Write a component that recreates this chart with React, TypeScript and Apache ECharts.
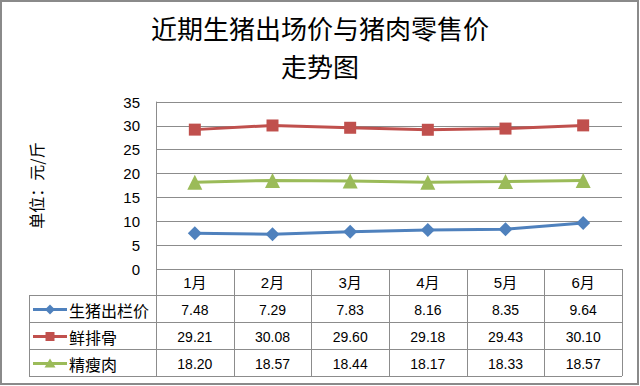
import React, { useEffect, useRef } from "react";
import * as echarts from "echarts";

const months = ["1月", "2月", "3月", "4月", "5月", "6月"];
const seriesNames = ["生猪出栏价", "鲜排骨", "精瘦肉"];
const hogPrice = [7.48, 7.29, 7.83, 8.16, 8.35, 9.64];
const ribPrice = [29.21, 30.08, 29.6, 29.18, 29.43, 30.1];
const leanPrice = [18.2, 18.57, 18.44, 18.17, 18.33, 18.57];
const yTicks = { min: 0, max: 35, interval: 5 };
const titleText = "近期生猪出场价与猪肉零售价\n走势图";
const yAxisName = "单位：元/斤";

const colors = ["#4F81BD", "#C0504D", "#9BBB59"];
const symbols = ["diamond", "rect", "triangle"];
const symbolSizes = [14, 12, 15];

const W = 640;
const H = 386;
const gridLeft = 156;
const gridRight = 622;
const gridTop = 102;
const gridBottom = 269;
const rowLines = [295, 322, 349, 376];
const tableLeft = 29;
const lineColor = "#8c8c8c";

export default function App() {
  const ref = useRef<HTMLDivElement>(null);
  useEffect(() => {
    document.body.style.margin = "0";
    if (!ref.current) return;
    const chart = echarts.init(ref.current, null, { renderer: "svg" });
    const dataSets = [hogPrice, ribPrice, leanPrice];
    const colW = (gridRight - gridLeft) / months.length;
    const graphics: any[] = [];
    // outer border
    graphics.push({
      type: "rect",
      shape: { x: 1, y: 1, width: W - 3, height: H - 3 },
      style: { fill: "none", stroke: "#8a8a8a", lineWidth: 2 },
      silent: true,
    });
    // table horizontal lines
    graphics.push({
      type: "line",
      shape: { x1: gridLeft, y1: gridBottom + 0.5, x2: gridRight, y2: gridBottom + 0.5 },
      style: { stroke: lineColor, lineWidth: 1 },
    });
    rowLines.forEach((y) => {
      graphics.push({
        type: "line",
        shape: { x1: tableLeft, y1: y + 0.5, x2: gridRight, y2: y + 0.5 },
        style: { stroke: lineColor, lineWidth: 1 },
      });
    });
    // vertical lines
    graphics.push({
      type: "line",
      shape: { x1: tableLeft + 0.5, y1: rowLines[0], x2: tableLeft + 0.5, y2: rowLines[3] },
      style: { stroke: lineColor, lineWidth: 1 },
    });
    for (let k = 0; k <= months.length; k++) {
      const x = Math.round(gridLeft + colW * k) + 0.5;
      graphics.push({
        type: "line",
        shape: { x1: x, y1: gridBottom, x2: x, y2: rowLines[3] },
        style: { stroke: lineColor, lineWidth: 1 },
      });
    }
    // table rows
    dataSets.forEach((vals, r) => {
      const yc = (rowLines[r] + rowLines[r + 1]) / 2 + 1;
      const c = colors[r];
      graphics.push({
        type: "line",
        shape: { x1: 33, y1: yc, x2: 67, y2: yc },
        style: { stroke: c, lineWidth: 3 },
      });
      const mx = 50;
      if (symbols[r] === "diamond") {
        graphics.push({
          type: "polygon",
          shape: { points: [[mx, yc - 5], [mx + 5, yc], [mx, yc + 5], [mx - 5, yc]] },
          style: { fill: c },
        });
      } else if (symbols[r] === "rect") {
        graphics.push({
          type: "rect",
          shape: { x: mx - 4.5, y: yc - 4.5, width: 9, height: 9 },
          style: { fill: c },
        });
      } else {
        graphics.push({
          type: "polygon",
          shape: { points: [[mx, yc - 5], [mx + 5.5, yc + 4], [mx - 5.5, yc + 4]] },
          style: { fill: c },
        });
      }
      graphics.push({
        type: "text",
        x: 69,
        y: yc,
        style: {
          text: seriesNames[r],
          fontSize: 16,
          fontFamily: "Noto Sans CJK SC",
          fill: "#000",
          textVerticalAlign: "middle",
          verticalAlign: "middle",
        },
      });
      vals.forEach((v, i) => {
        graphics.push({
          type: "text",
          x: gridLeft + colW * (i + 0.5),
          y: yc,
          style: {
            text: v.toFixed(2),
            fontSize: 14,
            fontFamily: "Liberation Sans",
            fill: "#000",
            align: "center",
            textAlign: "center",
            verticalAlign: "middle",
            textVerticalAlign: "middle",
          },
        });
      });
    });

    chart.setOption({
      animation: false,
      backgroundColor: "#fff",
      title: {
        text: titleText,
        left: "center",
        top: 3,
        textStyle: {
          fontSize: 26,
          fontWeight: "normal",
          fontFamily: "Noto Sans CJK SC",
          color: "#000",
          lineHeight: 38,
        },
      },
      grid: {
        left: gridLeft,
        right: W - gridRight,
        top: gridTop,
        bottom: H - gridBottom,
        containLabel: false,
      },
      xAxis: {
        type: "category",
        data: months,
        boundaryGap: true,
        axisLine: { show: false },
        axisTick: { show: false },
        splitLine: { show: false },
        axisLabel: {
          margin: 6,
          fontSize: 15,
          color: "#000",
          fontFamily: "Liberation Sans, Noto Sans CJK SC",
        },
      },
      yAxis: {
        type: "value",
        min: yTicks.min,
        max: yTicks.max,
        interval: yTicks.interval,
        name: yAxisName,
        nameLocation: "middle",
        nameRotate: 90,
        nameGap: 112,
        nameTextStyle: {
          fontSize: 16,
          color: "#000",
          fontFamily: "Noto Sans CJK SC",
        },
        axisLine: { show: true, lineStyle: { color: lineColor, width: 1 } },
        axisTick: { show: false },
        splitLine: { show: true, lineStyle: { color: lineColor, width: 1 } },
        axisLabel: {
          margin: 16,
          fontSize: 15,
          color: "#000",
          fontFamily: "Liberation Sans",
        },
      },
      series: dataSets.map((d, i) => ({
        name: seriesNames[i],
        type: "line",
        data: d,
        symbol: symbols[i],
        symbolSize: symbolSizes[i],
        showSymbol: true,
        lineStyle: { color: colors[i], width: 3 },
        itemStyle: { color: colors[i] },
      })),
      graphic: graphics,
    });
    return () => chart.dispose();
  }, []);
  return <div ref={ref} style={{ width: W, height: H }} />;
}
